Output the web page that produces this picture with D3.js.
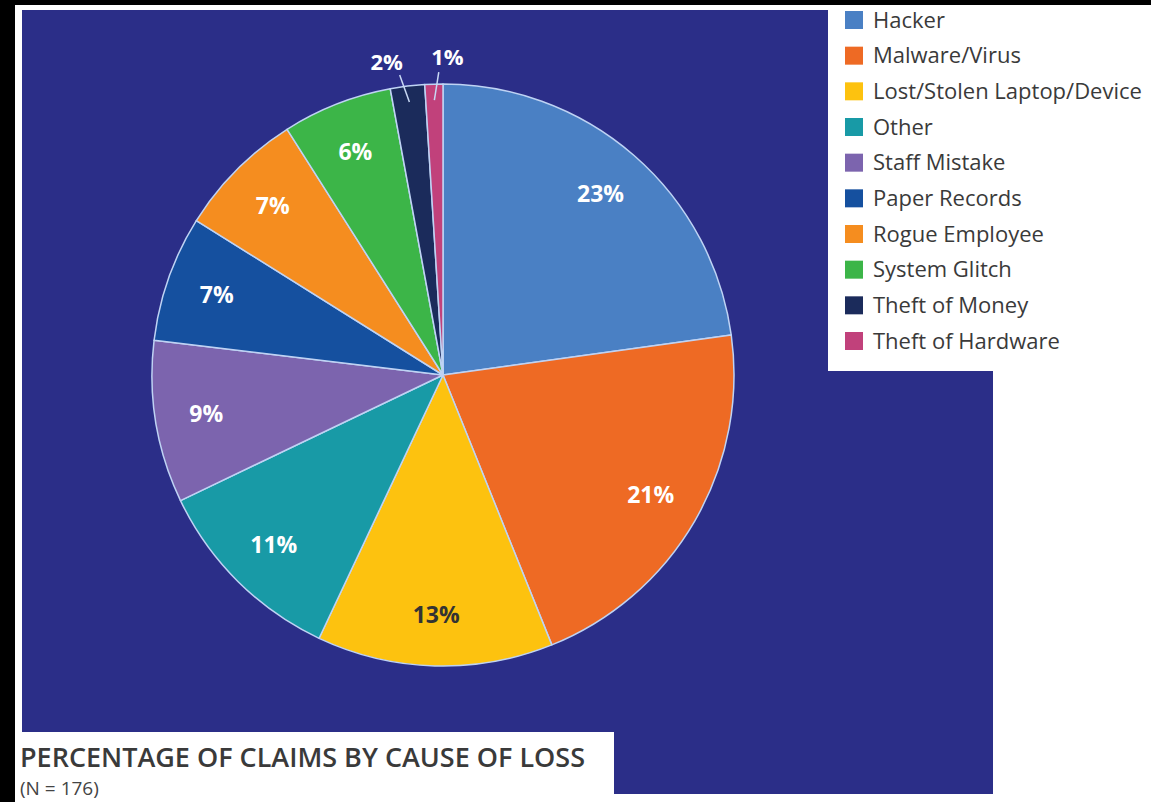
<!DOCTYPE html>
<html>
<head>
<meta charset="utf-8">
<script src="https://cdn.jsdelivr.net/npm/d3@7"></script>
<style>
  html, body { margin: 0; padding: 0; background: #000; }
  svg { display: block; }
</style>
</head>
<body>
<script>
// ---- data ----
const categories = ["Hacker", "Malware/Virus", "Lost/Stolen Laptop/Device", "Other", "Staff Mistake",
  "Paper Records", "Rogue Employee", "System Glitch", "Theft of Money", "Theft of Hardware"];
const values = [22.8, 21.1, 13.1, 10.9, 9.0, 7.0, 7.1, 6.1, 1.9, 1.0];
const colors = ["#4a80c4", "#ee6a24", "#fdc20f", "#189aa6", "#7c64ae",
  "#15509f", "#f58d1f", "#3cb548", "#1b2b5b", "#c1417b"];
const titleText = "PERCENTAGE OF CLAIMS BY CAUSE OF LOSS";
const subtitleText = "(N = 176)";

const W = 1151, H = 802;
const svg = d3.select("body").append("svg").attr("width", W).attr("height", H);

// backgrounds
svg.append("rect").attr("width", W).attr("height", H).attr("fill", "#000");
svg.append("rect").attr("x", 15).attr("y", 5).attr("width", W - 15).attr("height", H - 5).attr("fill", "#fff");
svg.append("rect").attr("x", 22).attr("y", 10).attr("width", 971).attr("height", 784).attr("fill", "#2b2e88");
svg.append("rect").attr("x", 828).attr("y", 5).attr("width", W - 828).attr("height", 366).attr("fill", "#fff");
svg.append("rect").attr("x", 15).attr("y", 732).attr("width", 599).attr("height", 70).attr("fill", "#fff");

// pie
const cx = 443, cy = 375, R = 291;
const data = categories.map((c, i) => ({ cat: c, value: values[i], color: colors[i], i }));
const pie = d3.pie().value(d => d.value).sort(null);
const arcs = pie(data);
const arc = d3.arc().innerRadius(0).outerRadius(R);
const g = svg.append("g").attr("transform", `translate(${cx},${cy})`);
g.selectAll("path").data(arcs).join("path")
  .attr("d", arc)
  .attr("fill", d => d.data.color)
  .attr("stroke", "#bfd3f4")
  .attr("stroke-width", 1.5)
  .attr("stroke-linejoin", "round");

const fmt = d => Math.round(d) + "%";
const polar = (r, a) => [r * Math.sin(a), -r * Math.cos(a)];
const big = arcs.filter(d => d.data.value >= 3);
const small = arcs.filter(d => d.data.value < 3);

g.selectAll("text.in").data(big).join("text")
  .attr("class", "in")
  .attr("transform", d => {
    const p = polar(240, (d.startAngle + d.endAngle) / 2);
    return `translate(${p[0]},${p[1]})`;
  })
  .attr("text-anchor", "middle")
  .attr("dy", "0.35em")
  .attr("font-family", "'Open Sans', sans-serif")
  .attr("font-weight", 700)
  .attr("font-size", 23)
  .attr("fill", d => d.data.i === 2 ? "#333" : "#fff")
  .text(d => fmt(d.data.value));

// small slices: outside labels with leader lines, spread apart
const spread = [-3.2, 2.6];
const lineSpread = [-1.2, 1.0];
small.forEach((d, k) => {
  const mid = (d.startAngle + d.endAngle) / 2;
  const deg = Math.PI / 180;
  const p0 = polar(275, mid);
  const p1 = polar(303, mid + lineSpread[k] * deg);
  const pl = polar(318, mid + spread[k] * deg);
  g.append("line")
    .attr("x1", p0[0]).attr("y1", p0[1]).attr("x2", p1[0]).attr("y2", p1[1])
    .attr("stroke", "#c8d8f4").attr("stroke-width", 1.5);
  g.append("text")
    .attr("x", pl[0]).attr("y", pl[1])
    .attr("text-anchor", "middle").attr("dy", "0.35em")
    .attr("font-family", "'Open Sans', sans-serif")
    .attr("font-weight", 700).attr("font-size", 22)
    .attr("fill", "#fff")
    .text(fmt(d.data.value));
});

// legend
const leg = svg.append("g").attr("transform", "translate(845,20)");
const ly = d3.scaleLinear().domain([0, 9]).range([0, 321]);
const items = leg.selectAll("g").data(data).join("g")
  .attr("transform", (d, i) => `translate(0,${ly(i)})`);
items.append("rect").attr("x", 0).attr("y", -9).attr("width", 18).attr("height", 18)
  .attr("fill", d => d.color);
items.append("text").attr("x", 28).attr("dy", "0.35em")
  .attr("font-family", "'Open Sans', sans-serif").attr("font-size", 22)
  .attr("fill", "#3a3a3a")
  .text(d => d.cat);

// title
svg.append("text").attr("x", 20).attr("y", 767)
  .attr("font-family", "'Open Sans', sans-serif").attr("font-weight", 600)
  .attr("font-size", 27).attr("fill", "#3a3a3a")
  .attr("textLength", 565).attr("lengthAdjust", "spacingAndGlyphs")
  .text(titleText);
svg.append("text").attr("x", 20).attr("y", 795)
  .attr("font-family", "'Open Sans', sans-serif")
  .attr("font-size", 19).attr("fill", "#444")
  .text(subtitleText);
</script>
</body>
</html>
